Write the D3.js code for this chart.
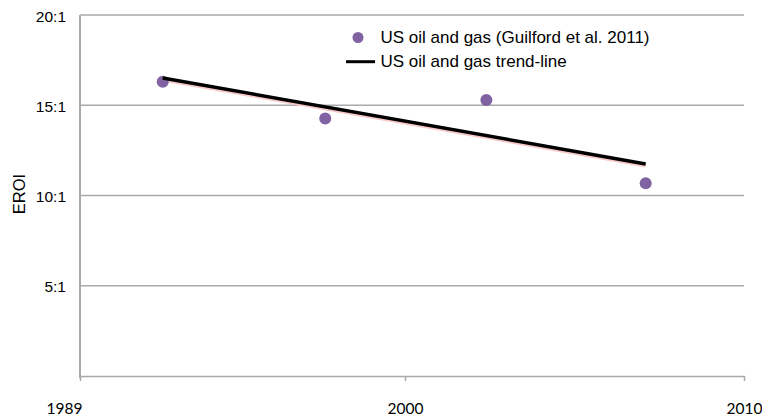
<!DOCTYPE html>
<html>
<head>
<meta charset="utf-8">
<script src="https://cdn.jsdelivr.net/npm/d3@7"></script>
<style>
  html, body { margin: 0; padding: 0; background: #fff; }
  svg { display: block; }
</style>
</head>
<body>
<svg id="chart" width="762" height="419"></svg>
<script>
// Data
const years = [1991.8, 1997.3, 2002.4, 2007.1];
const eroi = [16.3, 14.26, 15.29, 10.68];
const trendYears = [1991.8, 2007.1];
const trendValues = [16.51, 11.75];
const xTicks = [1989, 2000, 2010];
const xTickLabels = ["1989", "2000", "2010"];
const yTicks = [5, 10, 15, 20];
const yTickLabels = ["5:1", "10:1", "15:1", "20:1"];
const seriesNames = ["US oil and gas (Guilford et al. 2011)", "US oil and gas trend-line"];

const svg = d3.select("#chart");
const x = d3.scaleLinear().domain([1989, 2000, 2010]).range([80, 405, 744]);
const y = d3.scaleLinear().domain([0, 20]).range([376, 15]);

const grid = "#a9a9a9";
const font = "'Liberation Sans', Arial, Helvetica, sans-serif";

// gridlines
svg.append("g").selectAll("line").data(yTicks).join("line")
  .attr("x1", x(1989)).attr("x2", x(2010))
  .attr("y1", d => y(d)).attr("y2", d => y(d))
  .attr("stroke", grid).attr("stroke-width", 1.5);

// y tick labels
svg.append("g").selectAll("text").data(yTicks).join("text")
  .attr("x", 66).attr("y", d => y(d) + 1)
  .attr("dy", "0.36em")
  .attr("text-anchor", "end")
  .attr("font-family", font).attr("font-size", 15.5).attr("fill", "#000")
  .text((d, i) => yTickLabels[i]);

// y axis line
svg.append("line")
  .attr("x1", x(1989)).attr("x2", x(1989))
  .attr("y1", y(20)).attr("y2", y(0) + 2)
  .attr("stroke", grid).attr("stroke-width", 2);

// x axis
const xAxis = d3.axisBottom(x).tickValues(xTicks).tickSize(5).tickSizeOuter(0)
  .tickFormat((d, i) => xTickLabels[i]);
const gx = svg.append("g").attr("transform", `translate(0,${y(0)})`).call(xAxis);
gx.select(".domain").attr("stroke", grid).attr("stroke-width", 1.5);
gx.selectAll(".tick line").attr("stroke", grid).attr("stroke-width", 1.5);
gx.selectAll(".tick text")
  .attr("font-family", "Lato, 'Open Sans', sans-serif")
  .attr("font-size", 15.5).attr("fill", "#000")
  .attr("y", 27).attr("dy", "0.71em")
  .attr("dx", (d, i) => i === 0 ? -16 : 0);

// y axis title
svg.append("text")
  .attr("transform", "translate(25,194) rotate(-90)")
  .attr("text-anchor", "middle")
  .attr("font-family", font).attr("font-size", 16.5).attr("fill", "#000")
  .text("EROI");

// trend line (pink shadow + black line)
const trend = trendYears.map((t, i) => [t, trendValues[i]]);
const line = d3.line().x(d => x(d[0])).y(d => y(d[1]));
svg.append("path").datum(trend)
  .attr("d", line).attr("transform", "translate(0,2)")
  .attr("fill", "none").attr("stroke", "#f7c9c9").attr("stroke-width", 3);

// points
svg.append("g").selectAll("circle").data(years).join("circle")
  .attr("cx", d => x(d)).attr("cy", (d, i) => y(eroi[i]))
  .attr("r", 6).attr("fill", "#8064a2");

svg.append("path").datum(trend)
  .attr("d", line)
  .attr("fill", "none").attr("stroke", "#000").attr("stroke-width", 3.5);

// legend
const lg = svg.append("g");
lg.append("circle").attr("cx", 358).attr("cy", 37.5).attr("r", 5.5).attr("fill", "#8064a2");
lg.append("line").attr("x1", 346).attr("x2", 375).attr("y1", 61.7).attr("y2", 61.7)
  .attr("stroke", "#000").attr("stroke-width", 3);
lg.selectAll("text").data(seriesNames).join("text")
  .attr("x", 380.5).attr("y", (d, i) => i === 0 ? 43 : 66.5)
  .attr("font-family", font).attr("font-size", 17).attr("fill", "#000")
  .text(d => d);
</script>
</body>
</html>
